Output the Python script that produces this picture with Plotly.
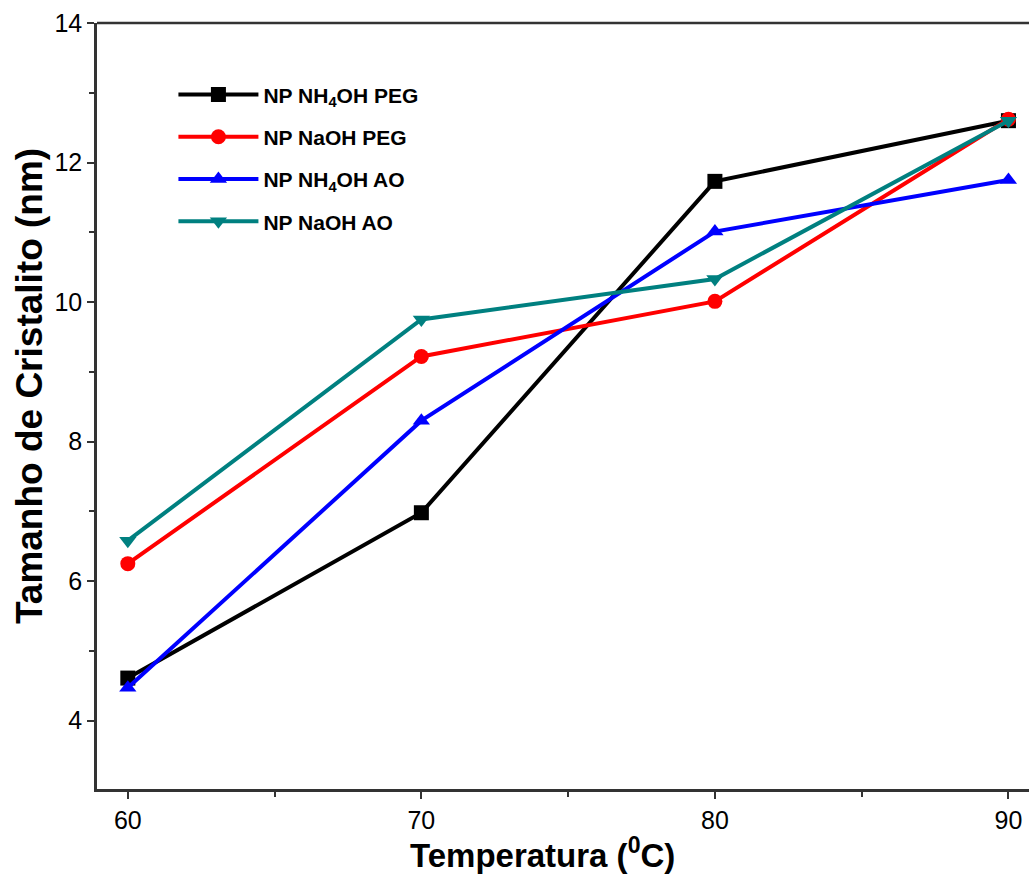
import plotly.graph_objects as go

temperatura = [60, 70, 80, 90]
np_nh4oh_peg = [4.61, 6.98, 11.73, 12.60]
np_naoh_peg = [6.25, 9.22, 10.01, 12.62]
np_nh4oh_ao = [4.47, 8.30, 11.01, 11.75]
np_naoh_ao = [6.58, 9.75, 10.33, 12.60]

series = [
    ("NP NH<sub>4</sub>OH PEG", np_nh4oh_peg, "#000000", "square"),
    ("NP NaOH PEG", np_naoh_peg, "#FF0000", "circle"),
    ("NP NH<sub>4</sub>OH AO", np_nh4oh_ao, "#0000FF", "triangle-up"),
    ("NP NaOH AO", np_naoh_ao, "#008080", "triangle-down"),
]

fig = go.Figure()
for i, (name, vals, color, sym) in enumerate(series):
    fig.add_trace(go.Scatter(
        x=temperatura, y=vals, name=name, mode="lines+markers",
        legendgroup=f"g{i}",
        line=dict(color=color, width=4),
        marker=dict(symbol=sym, size=15, color=color),
    ))

axis_font = dict(family="Liberation Sans, Arial", size=25, color="#000")
title_font = dict(family="Liberation Sans, Arial", color="#000", weight="bold")
fig.update_layout(
    width=1029, height=877,
    margin=dict(l=97, r=0, t=23, b=88),
    paper_bgcolor="white", plot_bgcolor="white",
    showlegend=True,
    legend=dict(
        x=0.082, y=0.933, xanchor="left", yanchor="top",
        font=dict(family="Liberation Sans", size=21, color="#000", weight="bold"),
        bgcolor="rgba(0,0,0,0)", tracegroupgap=12, itemwidth=80,
    ),
    xaxis=dict(
        range=[58.95, 90.7], tickvals=[60, 70, 80, 90],
        ticks="outside", ticklen=7, tickwidth=2, tickcolor="#333",
        minor=dict(tickvals=[65, 75, 85], ticks="outside", ticklen=5, tickwidth=2, tickcolor="#333"),
        showline=True, linewidth=2.5, linecolor="#333", mirror=False,
        showgrid=False, zeroline=False, tickfont=axis_font,
    ),
    yaxis=dict(
        range=[3.02, 14.0], tickvals=[4, 6, 8, 10, 12, 14],
        ticks="outside", ticklen=7, tickwidth=2, tickcolor="#333",
        minor=dict(tickvals=[5, 7, 9, 11, 13], ticks="outside", ticklen=5, tickwidth=2, tickcolor="#333"),
        showline=True, linewidth=2.5, linecolor="#333",
        showgrid=False, zeroline=False, tickfont=axis_font,
    ),
)

# axis titles
fig.add_annotation(text="Temperatura (<sup>0</sup>C)", xref="paper", yref="paper",
                   x=0.4775, y=-0.083, xanchor="center", yanchor="middle",
                   showarrow=False, font=dict(size=33, **title_font))
fig.add_annotation(text="Tamanho de Cristalito (nm)", xref="paper", yref="paper",
                   x=-0.073, y=0.526, xanchor="center", yanchor="middle", textangle=-90,
                   showarrow=False, font=dict(size=37, **title_font))

# top frame line
fig.add_shape(type="line", xref="paper", yref="paper", x0=0, x1=1, y0=1, y1=1,
              line=dict(color="#333", width=2.5))

fig.write_html("out.html")
